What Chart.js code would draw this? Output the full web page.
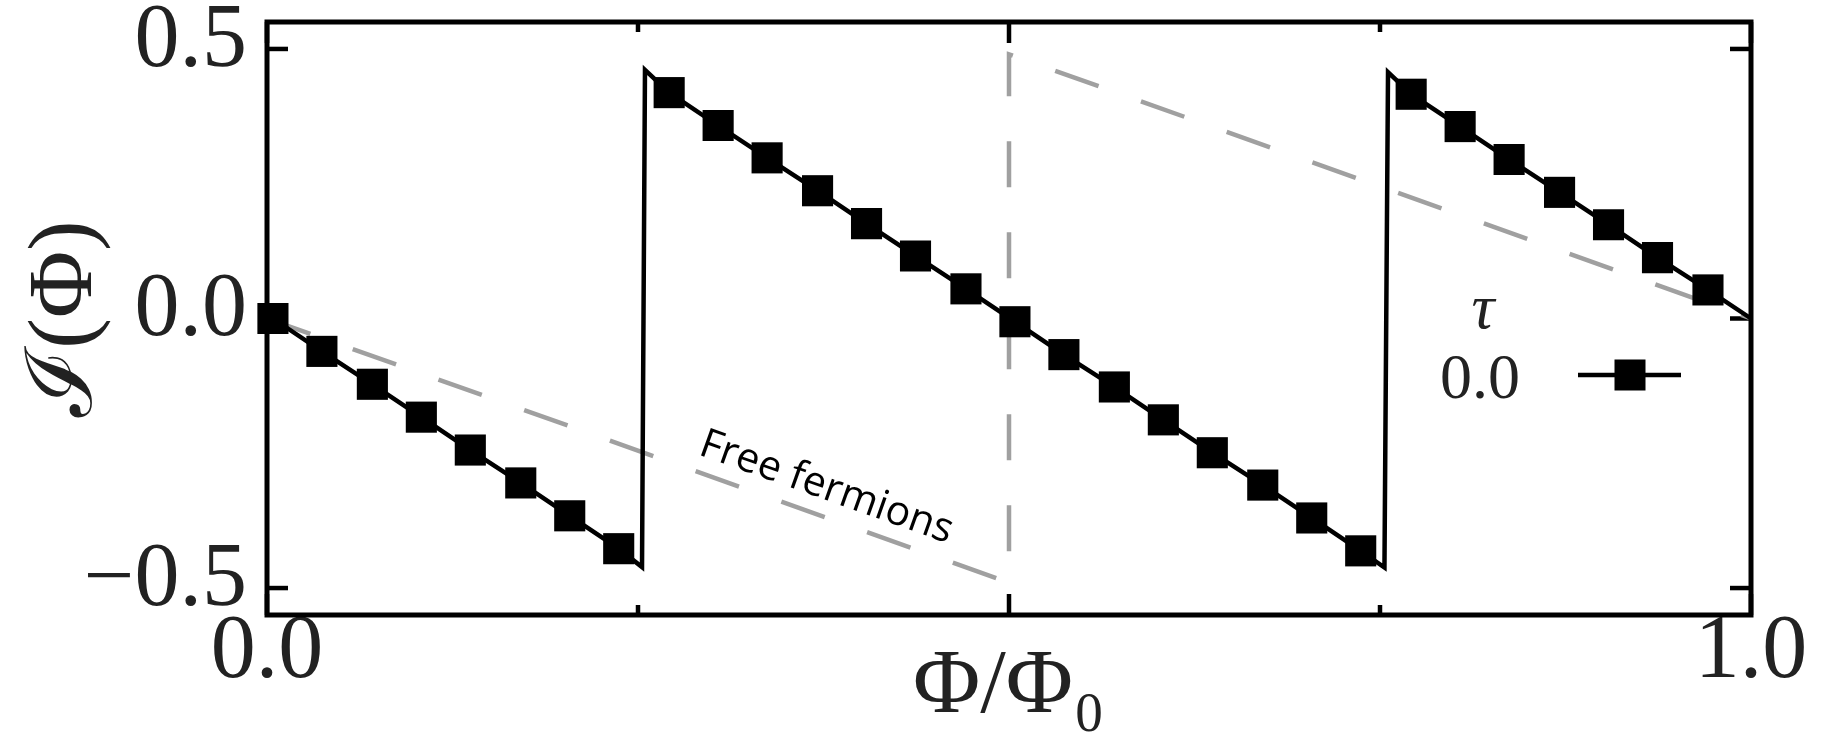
<!DOCTYPE html>
<html>
<head>
<meta charset="utf-8">
<script src="https://cdn.jsdelivr.net/npm/chart.js@4/dist/chart.umd.min.js"></script>
<style>
  html, body { margin: 0; padding: 0; background: #ffffff; }
  #wrap { width: 1825px; height: 745px; }
</style>
</head>
<body>
<div id="wrap"><canvas id="c" width="1825" height="745"></canvas></div>
<script>
// Persistent current I(Φ) at τ = 0.0, sampled points shown with square markers
const phiMarked = [0.004, 0.037, 0.071, 0.104, 0.137, 0.171, 0.204, 0.237,
                   0.271, 0.304, 0.337, 0.371, 0.404, 0.437, 0.471, 0.504,
                   0.537, 0.571, 0.604, 0.637, 0.671, 0.704, 0.737,
                   0.771, 0.804, 0.837, 0.871, 0.904, 0.937, 0.971];
const currentMarked = [0.000, -0.061, -0.122, -0.183, -0.244, -0.305, -0.366, -0.427,
                       0.419, 0.358, 0.298, 0.237, 0.176, 0.116, 0.055, -0.006,
                       -0.067, -0.127, -0.188, -0.249, -0.309, -0.370, -0.431,
                       0.416, 0.356, 0.295, 0.234, 0.174, 0.113, 0.053];
// Extra vertices of the curve (jumps and end point), drawn without markers
const phiJump = [0.2527, 0.2547, 0.7530, 0.7554, 1.0];
const currentJump = [-0.461, 0.461, -0.462, 0.457, 0.0];
// Free-fermion reference curve
const phiFree = [0.0, 0.5, 0.5, 1.0];
const currentFree = [0.0, -0.49, 0.49, 0.0];
// Axis ticks and labels
const xMajorTicks = [0.0, 0.5, 1.0];
const xMinorTicks = [0.25, 0.75];
const xTickLabels = ['0.0', '', '1.0'];
const yTicks = [-0.5, 0.0, 0.5];
const yTickLabels = ['\u22120.5', '0.0', '0.5'];
const xTitle = '\u03A6/\u03A6\u2080';
const yTitle = '\u2110(\u03A6)';
const legendTitle = '\u03C4';
const seriesLabel = '0.0';
const freeLabel = 'Free fermions';

const SERIF = '"Liberation Serif", "DejaVu Serif", serif';
const INK = '#222222';
const GREY = '#a0a0a0';

const markerPts = phiMarked.map((x, i) => ({ x, y: currentMarked[i] }));
const linePts = markerPts
  .concat(phiJump.map((x, i) => ({ x, y: currentJump[i] })))
  .sort((a, b) => a.x - b.x);
const freePts = phiFree.map((x, i) => ({ x, y: currentFree[i] }));

// Frame, inward ticks, annotation and legend
const decor = {
  id: 'decor',
  beforeDatasetsDraw(chart) {
    const { ctx, chartArea: a, scales: { x, y } } = chart;
    ctx.save();
    ctx.strokeStyle = '#000';
    ctx.lineWidth = 4.5;
    const tick = (px, py, dx, dy) => {
      ctx.beginPath(); ctx.moveTo(px, py); ctx.lineTo(px + dx, py + dy); ctx.stroke();
    };
    yTicks.forEach(v => {
      const p = y.getPixelForValue(v);
      tick(a.left, p, 21, 0); tick(a.right, p, -21, 0);
    });
    xMajorTicks.forEach(v => {
      const p = x.getPixelForValue(v);
      tick(p, a.top, 0, 21); tick(p, a.bottom, 0, -21);
    });
    xMinorTicks.forEach(v => {
      const p = x.getPixelForValue(v);
      tick(p, a.top, 0, 10); tick(p, a.bottom, 0, -10);
    });
    ctx.restore();
  },
  afterDatasetsDraw(chart) {
    const { ctx, chartArea: a, scales: { x, y } } = chart;
    ctx.save();
    // axes frame
    ctx.strokeStyle = '#000';
    ctx.lineWidth = 5;
    ctx.strokeRect(a.left, a.top, a.right - a.left, a.bottom - a.top);

    // label along the free-fermion line
    const x0 = x.getPixelForValue(phiFree[0]), y0 = y.getPixelForValue(currentFree[0]);
    const x1 = x.getPixelForValue(phiFree[1]), y1 = y.getPixelForValue(currentFree[1]);
    const ang = Math.atan2(y1 - y0, x1 - x0);
    ctx.save();
    ctx.translate(x.getPixelForValue(0.377), y.getPixelForValue(-0.314));
    ctx.rotate(ang);
    ctx.fillStyle = '#000';
    ctx.font = '41px "Open Sans", "DejaVu Sans", sans-serif';
    ctx.textAlign = 'center';
    ctx.textBaseline = 'middle';
    ctx.fillText(freeLabel, 0, 0);
    ctx.restore();

    // legend: title, label, then line handle with square marker
    ctx.fillStyle = INK;
    ctx.textAlign = 'center';
    ctx.textBaseline = 'alphabetic';
    ctx.font = 'italic 64px ' + SERIF;
    ctx.fillText(legendTitle, a.right - 268, a.top + 306);
    ctx.font = '64px ' + SERIF;
    ctx.fillText(seriesLabel, a.right - 271, a.top + 376);
    const hy = a.top + 353;
    ctx.strokeStyle = '#000';
    ctx.lineWidth = 4.5;
    ctx.beginPath();
    ctx.moveTo(a.right - 173, hy);
    ctx.lineTo(a.right - 70, hy);
    ctx.stroke();
    ctx.fillStyle = '#000';
    ctx.fillRect(a.right - 121 - 15.5, hy - 15.5, 31, 31);
    ctx.restore();
  }
};

new Chart(document.getElementById('c'), {
  data: {
    datasets: [
      {
        type: 'scatter',
        label: seriesLabel,
        data: markerPts,
        showLine: false,
        pointStyle: 'rect',
        pointRadius: 22,
        pointBorderWidth: 0,
        pointBackgroundColor: '#000',
        clip: false
      },
      {
        type: 'line',
        label: 'curve',
        data: linePts,
        borderColor: '#000',
        borderWidth: 4.5,
        pointRadius: 0,
        tension: 0,
        fill: false,
        borderJoinStyle: 'miter',
        clip: false
      },
      {
        type: 'line',
        label: freeLabel,
        data: freePts,
        borderColor: GREY,
        borderWidth: 4.5,
        borderDash: [46, 45],
        pointRadius: 0,
        tension: 0,
        fill: false,
        clip: false
      }
    ]
  },
  options: {
    responsive: false,
    animation: false,
    devicePixelRatio: 1,
    layout: { padding: { left: 0, top: 22, right: 74, bottom: 0 } },
    plugins: { legend: { display: false }, tooltip: { enabled: false } },
    scales: {
      x: {
        type: 'linear',
        position: 'bottom',
        min: 0, max: 1,
        grid: { display: false, drawTicks: false },
        border: { display: false },
        afterBuildTicks: s => { s.ticks = xMajorTicks.map(v => ({ value: v })); },
        afterFit: s => { s.height = 130; s.paddingLeft = 0; s.paddingRight = 0; },
        ticks: {
          autoSkip: false, maxRotation: 0, minRotation: 0,
          padding: -7,
          color: INK,
          font: { family: SERIF, size: 90, lineHeight: 1 },
          callback: (v, i) => xTickLabels[i]
        },
        title: {
          display: true, text: xTitle, color: INK,
          font: { family: SERIF, size: 92, lineHeight: 1 },
          padding: { top: 0, bottom: 11 }
        }
      },
      y: {
        type: 'linear',
        position: 'left',
        min: -0.55, max: 0.55,
        grid: { display: false, drawTicks: false },
        border: { display: false },
        afterBuildTicks: s => { s.ticks = yTicks.map(v => ({ value: v })); },
        afterFit: s => { s.width = 267; s.paddingTop = 0; s.paddingBottom = 0; },
        ticks: {
          autoSkip: false,
          padding: 20,
          labelOffset: -7,
          color: INK,
          font: { family: SERIF, size: 90, lineHeight: 1 },
          callback: (v, i) => yTickLabels[i]
        },
        title: {
          display: true, text: yTitle, color: INK,
          font: { family: SERIF, size: 92, lineHeight: 1 },
          padding: { top: 21, bottom: 0 }
        }
      }
    }
  },
  plugins: [decor]
});
</script>
</body>
</html>
